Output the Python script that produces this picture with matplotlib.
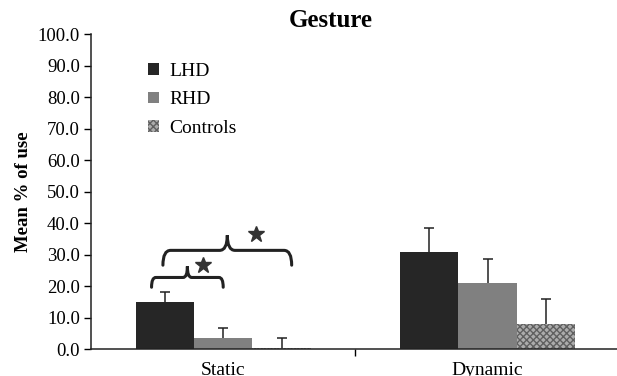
"""Grouped bar chart of gesture use (static vs dynamic) per group."""

import matplotlib

matplotlib.use("Agg")
import matplotlib.pyplot as plt
import numpy as np
from matplotlib import ticker
from matplotlib.patches import Patch, PathPatch
from matplotlib.path import Path

categories = ["Static", "Dynamic"]
groups = ["LHD", "RHD", "Controls"]
means = {
    "LHD": [15.0, 30.9],
    "RHD": [3.7, 21.2],
    "Controls": [0.4, 7.9],
}
errors = {
    "LHD": [3.2, 7.7],
    "RHD": [3.0, 7.4],
    "Controls": [3.1, 8.2],
}
# significant pairs within "Static": (group a, group b, brace level)
sig_pairs = [("LHD", "RHD", 22.8), ("LHD", "Controls", 31.4)]

plt.rcParams["font.family"] = ["Liberation Serif", "DejaVu Serif"]

_colors = {"LHD": "#262626", "RHD": "#808080", "Controls": "#b4b4b4"}
_width = 0.221


def draw_brace(ax, x0, x1, y, drop, rise, **kw):
    """Draws a curly brace pointing up between x0 and x1 at height y."""
    xm = (x0 + x1) / 2
    r = (x1 - x0) * 0.06
    verts = [
        (x0, y - drop), (x0, y), (x0 + r, y),
        (xm - r, y), (xm, y), (xm, y + rise),
        (xm, y), (xm + r, y),
        (x1 - r, y), (x1, y), (x1, y - drop),
    ]
    codes = [
        Path.MOVETO, Path.CURVE3, Path.CURVE3,
        Path.LINETO, Path.CURVE3, Path.CURVE3,
        Path.CURVE3, Path.CURVE3,
        Path.LINETO, Path.CURVE3, Path.CURVE3,
    ]
    ax.add_patch(PathPatch(Path(verts, codes), fill=False, capstyle="round", **kw))


fig = plt.figure(figsize=(6.17, 3.76), dpi=100)
ax = fig.add_axes([0.1475, 0.071, 0.857, 0.838])

x = np.arange(len(categories))
_centers = {}
for i, g in enumerate(groups):
    _pos = x + (i - 1) * _width
    _centers[g] = _pos
    if g == "Controls":
        ax.bar(_pos, means[g], _width, color="#acacac", edgecolor="#606060",
               hatch="xxxxx", linewidth=0)
    else:
        ax.bar(_pos, means[g], _width, color=_colors[g], linewidth=0)
    _, _caps, _ = ax.errorbar(_pos, means[g], yerr=[np.zeros(len(x)), errors[g]],
                              fmt="none", ecolor="#222222", elinewidth=1.1,
                              capsize=3.5, capthick=1.1)
    _caps[0].set_visible(False)

# significance braces on the Static group
for a, b, lvl in sig_pairs:
    _x0 = _centers[a][0] - (0.05 if b == "RHD" else 0.007)
    _x1 = _centers[b][0] + (0.0 if b == "RHD" else 0.038)
    _drop = 3.1 if b == "RHD" else 4.7
    _rise = 3.5 if b == "RHD" else 4.8
    draw_brace(ax, _x0, _x1, lvl, _drop, _rise, edgecolor="#222222", linewidth=2.2)
    _xm = (_x0 + _x1) / 2
    ax.plot(_xm + (_x1 - _x0) * 0.22, lvl + _rise + 0.5, marker="*", ms=12,
            color="#333333", linestyle="none")

ax.set_xlim(-0.5, 1.5)
ax.set_ylim(0, 100)
ax.yaxis.set_major_locator(ticker.MultipleLocator(10))
ax.yaxis.set_major_formatter(ticker.FormatStrFormatter("%.1f"))
ax.set_xticks(x)
ax.set_xticklabels(categories, fontsize=14)
ax.xaxis.set_minor_locator(ticker.FixedLocator([0.5]))
ax.tick_params(axis="x", which="major", length=0, pad=9)
ax.tick_params(axis="x", which="minor", length=5, width=1, direction="out")
ax.tick_params(axis="y", length=5, width=1, direction="out", labelsize=13.5, pad=3)

for spine in ["top", "right"]:
    ax.spines[spine].set_visible(False)
for spine in ["left", "bottom"]:
    ax.spines[spine].set_linewidth(1.1)
    ax.spines[spine].set_color("#222222")

ax.set_ylabel("Mean % of use", fontsize=13.5, fontweight="bold", labelpad=4)
fig.text(0.536, 0.975, "Gesture", ha="center", va="top", fontsize=18, fontweight="bold")

_handles = [
    Patch(facecolor=_colors["LHD"]),
    Patch(facecolor=_colors["RHD"]),
    Patch(facecolor="#acacac", edgecolor="#606060", hatch="xxxxx", linewidth=0),
]
ax.legend(_handles, groups, loc="upper left", bbox_to_anchor=(0.212, 0.88),
          bbox_transform=fig.transFigure, frameon=False, fontsize=14,
          handlelength=0.55, handleheight=0.55, handletextpad=0.55, labelspacing=0.6)

fig.savefig("out.png", dpi=100)
